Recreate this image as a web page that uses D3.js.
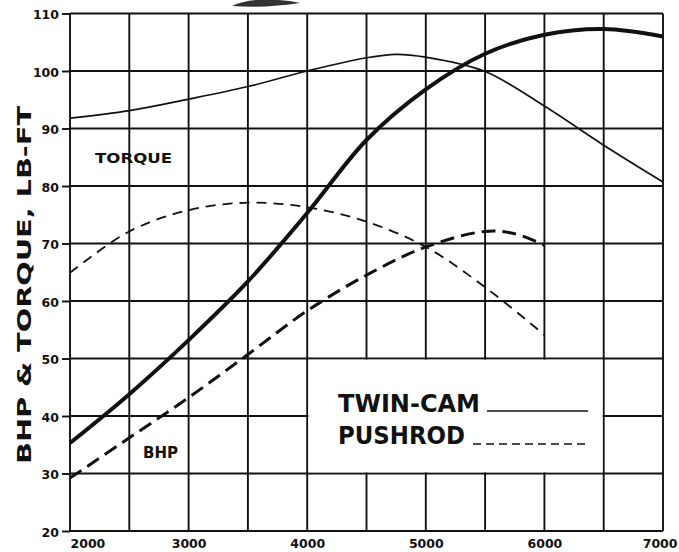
<!DOCTYPE html>
<html>
<head>
<meta charset="utf-8">
<script src="https://cdn.jsdelivr.net/npm/d3@7"></script>
<style>
  html, body { margin: 0; padding: 0; background: #fff; }
  svg { display: block; }
  text { font-family: "DejaVu Sans", "Open Sans", sans-serif; font-weight: bold; fill: #111; }
</style>
</head>
<body>
<svg id="chart" width="679" height="552"></svg>
<script>
// ---- data ----
const xTicks = [2000, 3000, 4000, 5000, 6000, 7000];
const xGrid = [2000, 2500, 3000, 3500, 4000, 4500, 5000, 5500, 6000, 6500, 7000];
const yTicks = [20, 30, 40, 50, 60, 70, 80, 90, 100, 110];

const tcTorqueRpm = [2000, 2500, 3000, 3500, 4000, 4500, 4750, 5000, 5500, 6000, 6500, 7000];
const tcTorque    = [91.8, 93.1, 95.1, 97.3, 100.0, 102.3, 102.9, 102.4, 99.9, 93.9, 87.1, 80.7];

const tcBhpRpm = [2000, 2500, 3000, 3500, 4000, 4500, 5000, 5500, 6000, 6500, 7000];
const tcBhp    = [35.3, 43.8, 53.2, 63.4, 75.3, 88.0, 96.8, 103.0, 106.3, 107.3, 106.0];

const prTorqueRpm = [2000, 2500, 3000, 3500, 4000, 4500, 5000, 5500, 6000];
const prTorque    = [64.9, 72.1, 75.8, 77.1, 76.3, 73.8, 69.4, 62.4, 54.1];

const prBhpRpm = [2000, 2500, 3000, 3500, 4000, 4500, 5000, 5500, 5750, 6000];
const prBhp    = [29.2, 36.2, 43.2, 50.7, 58.3, 64.5, 69.4, 72.1, 71.7, 69.7];

const yTitle = "BHP & TORQUE, LB-FT";
const legendNames = ["TWIN-CAM", "PUSHROD"];

// ---- drawing ----
const svg = d3.select("#chart");
const x = d3.scaleLinear().domain([2000, 7000]).range([70, 663]);
const y = d3.scaleLinear().domain([20, 110]).range([531, 13.5]);
const ink = "#111";

// grid
const grid = svg.append("g").attr("stroke", ink).attr("stroke-width", 1.9);
grid.selectAll("line.v").data(xGrid).enter().append("line")
  .attr("x1", d => x(d)).attr("x2", d => x(d))
  .attr("y1", y(110)).attr("y2", y(20));
grid.selectAll("line.h").data(yTicks).enter().append("line")
  .attr("x1", x(2000)).attr("x2", x(7000))
  .attr("y1", d => y(d)).attr("y2", d => y(d));

// legend box (blank cells between 4000-6500 and 30-50)
svg.append("rect")
  .attr("x", x(4000) + 1.2).attr("y", y(50) + 1.2)
  .attr("width", x(6500) - x(4000) - 2.4).attr("height", y(30) - y(50) - 2.4)
  .attr("fill", "#fff");

// y axis ticks & labels
const yAxis = d3.axisLeft(y).tickValues(yTicks).tickSize(8).tickPadding(3).tickFormat(d3.format("d"));
const ya = svg.append("g").attr("transform", `translate(${x(2000)},0)`).call(yAxis);
ya.select(".domain").remove();
ya.selectAll(".tick line").attr("stroke", ink).attr("stroke-width", 1.9);
ya.selectAll(".tick text").attr("font-size", 12.5).attr("font-family", "DejaVu Sans").attr("font-weight", "bold")
  .attr("fill", ink).attr("dy", "0.42em");

// x axis labels
const xAxis = d3.axisBottom(x).tickValues(xTicks).tickSize(0).tickPadding(8).tickFormat(d3.format("d"));
const xa = svg.append("g").attr("transform", `translate(0,${y(20)})`).call(xAxis);
xa.select(".domain").remove();
xa.selectAll(".tick text").attr("font-size", 12.5).attr("font-family", "DejaVu Sans").attr("font-weight", "bold")
  .attr("fill", ink)
  .attr("text-anchor", d => d === 2000 ? "start" : (d === 7000 ? "end" : "middle"))
  .attr("dx", d => d === 7000 ? 14 : 0);

// y title
svg.append("text")
  .attr("transform", `translate(31,${(105 + 465) / 2}) rotate(-90)`)
  .attr("text-anchor", "middle")
  .attr("font-size", 20)
  .attr("textLength", 358).attr("lengthAdjust", "spacingAndGlyphs")
  .text(yTitle);

// curves
const line = (rpms) => d3.line().x((d, i) => x(rpms[i])).y(d => y(d)).curve(d3.curveCatmullRom.alpha(0.5));
const curves = svg.append("g").attr("fill", "none").attr("stroke", ink).attr("stroke-linecap", "butt");
curves.append("path").attr("d", line(tcTorqueRpm)(tcTorque)).attr("stroke-width", 1.7);
curves.append("path").attr("d", line(tcBhpRpm)(tcBhp)).attr("stroke-width", 4);
curves.append("path").attr("d", line(prTorqueRpm)(prTorque)).attr("stroke-width", 1.8).attr("stroke-dasharray", "10,7");
curves.append("path").attr("d", line(prBhpRpm)(prBhp)).attr("stroke-width", 3).attr("stroke-dasharray", "14,7");

// curve labels
svg.append("text").attr("x", 95).attr("y", 163).attr("font-size", 14)
  .attr("textLength", 77).attr("lengthAdjust", "spacingAndGlyphs").text("TORQUE");
svg.append("text").attr("x", 143).attr("y", 458).attr("font-size", 15)
  .attr("textLength", 35).attr("lengthAdjust", "spacingAndGlyphs").text("BHP");

// legend
svg.append("text").attr("x", 338).attr("y", 412).attr("font-size", 24)
  .attr("textLength", 142).attr("lengthAdjust", "spacingAndGlyphs").text(legendNames[0]);
svg.append("text").attr("x", 338).attr("y", 444).attr("font-size", 24)
  .attr("textLength", 127).attr("lengthAdjust", "spacingAndGlyphs").text(legendNames[1]);
svg.append("line").attr("x1", 487).attr("x2", 588).attr("y1", 411).attr("y2", 411)
  .attr("stroke", ink).attr("stroke-width", 1.6);
svg.append("line").attr("x1", 473).attr("x2", 588).attr("y1", 444).attr("y2", 444)
  .attr("stroke", ink).attr("stroke-width", 1.6).attr("stroke-dasharray", "8,5");

// cropped header fragment at the top edge
svg.append("path")
  .attr("d", "M232,6 C245,0 262,-2 290,1 L300,3 C280,6 255,8 232,6 Z")
  .attr("fill", "#333");
</script>
</body>
</html>
